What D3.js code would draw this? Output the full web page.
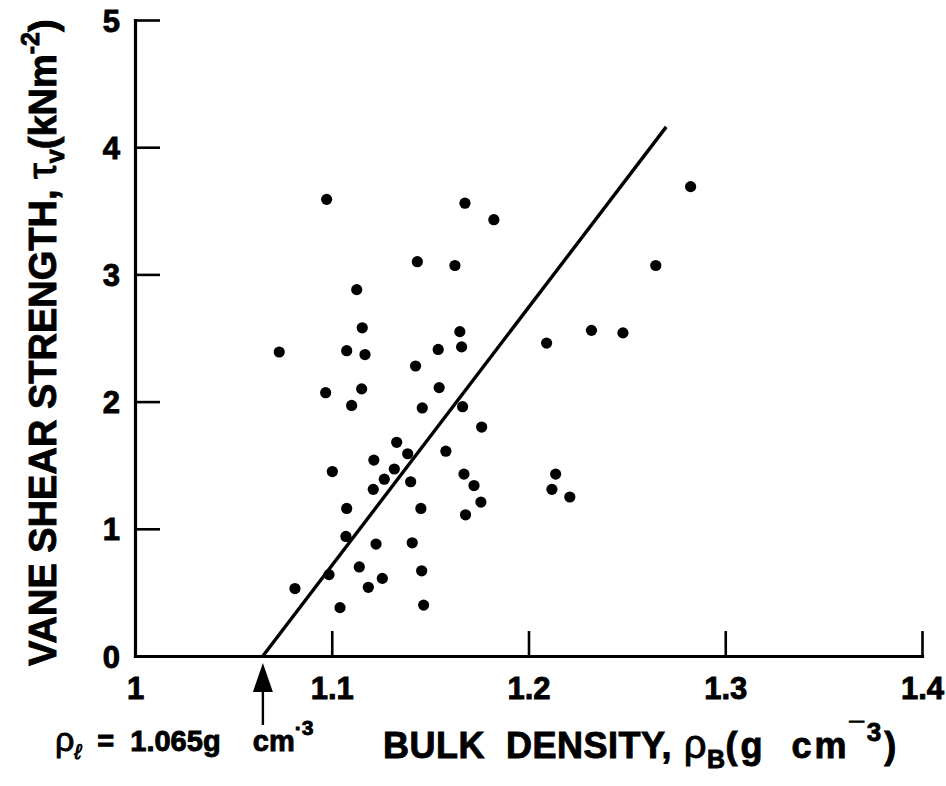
<!DOCTYPE html>
<html>
<head>
<meta charset="utf-8">
<script src="https://cdn.jsdelivr.net/npm/d3@7"></script>
<style>
  html, body { margin: 0; padding: 0; background: #fff; }
  svg { display: block; }
  text { font-family: "Liberation Sans", Arial, Helvetica, sans-serif; font-weight: bold; fill: #000; white-space: pre; }
  .heavy { stroke: #000; stroke-width: 0.9px; }
</style>
</head>
<body>
<svg id="chart" width="946" height="786"></svg>
<script>
// Bulk density (g cm-3) of each sample
const density = [
  1.0974, 1.1677, 1.1824, 1.1435, 1.1626, 1.1127, 1.1155, 1.1651, 1.0733, 1.1076,
  1.1169, 1.1541, 1.1660, 1.1426, 1.0969, 1.1152, 1.1101, 1.1546, 1.1460, 1.1665,
  1.1762, 1.1330, 1.1386, 1.1580, 1.1214, 1.1003, 1.1318, 1.1267, 1.1401, 1.1211,
  1.1672, 1.1723, 1.1758, 1.1680, 1.1453, 1.1076, 1.1072, 1.1225, 1.1409, 1.0986,
  1.0813, 1.1140, 1.1257, 1.1186, 1.1457, 1.1042, 1.1467, 1.2824, 1.2647, 1.2092,
  1.2320, 1.2480, 1.2138, 1.2119, 1.2210
];
// Vane shear strength (kN m-2) of each sample
const strength = [
  3.59, 3.56, 3.43, 3.10, 3.07, 2.88, 2.58, 2.55, 2.39, 2.40,
  2.37, 2.41, 2.43, 2.28, 2.07, 2.10, 1.97, 2.11, 1.95, 1.96,
  1.80, 1.68, 1.59, 1.61, 1.54, 1.45, 1.47, 1.39, 1.37, 1.31,
  1.43, 1.34, 1.21, 1.11, 1.16, 1.16, 0.94, 0.88, 0.89, 0.64,
  0.53, 0.70, 0.61, 0.54, 0.67, 0.38, 0.40, 3.69, 3.07, 2.46,
  2.56, 2.54, 1.43, 1.31, 1.25
];
// Fitted line end points: zero strength at the liquid-limit density 1.065
const fitDensity = [1.065, 1.27];
const fitStrength = [0, 4.16];
const liquidDensity = 1.065;

// Axis ticks
const xTicks = [1, 1.1, 1.2, 1.3, 1.4];
const xTickLabels = ["1", "1.1", "1.2", "1.3", "1.4"];
const yTicks = [0, 1, 2, 3, 4, 5];
const yTickLabels = ["0", "1", "2", "3", "4", "5"];

const svg = d3.select("#chart");

const x = d3.scaleLinear().domain([1, 1.4]).range([135, 922]);
const y = d3.scaleLinear().domain([0, 5]).range([656, 20]);

// Axes: ticks point inward, heavy lines
const yAxis = d3.axisLeft(y)
  .tickValues(yTicks)
  .tickFormat((d, i) => yTickLabels[i])
  .tickSizeInner(-25)
  .tickSizeOuter(0)
  .tickPadding(15);

const xAxis = d3.axisBottom(x)
  .tickValues(xTicks)
  .tickFormat((d, i) => xTickLabels[i])
  .tickSizeInner(-25)
  .tickSizeOuter(0)
  .tickPadding(21);

const gy = svg.append("g").attr("transform", `translate(${x(1)},0)`).call(yAxis);
const gx = svg.append("g").attr("transform", `translate(0,${y(0)})`).call(xAxis);

[gx, gy].forEach(g => {
  g.select(".domain").attr("stroke", "#000").attr("stroke-width", 3.2).attr("stroke-linecap", "square");
  g.selectAll(".tick line").attr("stroke", "#000").attr("stroke-width", 2.6);
  g.selectAll(".tick text")
    .attr("fill", "#000")
    .attr("class", "heavy")
    .style("font-family", '"Liberation Sans", Arial, sans-serif')
    .style("font-weight", "bold")
    .style("font-size", "31px");
});
gy.selectAll(".tick text").attr("dy", "0.36em");

// Fitted line
const line = d3.line().x((d, i) => x(fitDensity[i])).y((d, i) => y(fitStrength[i]));
svg.append("path")
  .datum(fitDensity)
  .attr("d", line)
  .attr("fill", "none")
  .attr("stroke", "#000")
  .attr("stroke-width", 3.4);

// Sample points
svg.append("g")
  .selectAll("circle")
  .data(density)
  .join("circle")
  .attr("cx", d => x(d))
  .attr("cy", (d, i) => y(strength[i]))
  .attr("r", 5.6)
  .attr("fill", "#000");

// Arrow marking the liquid-limit density below the axis
const ax = x(liquidDensity);
svg.append("line")
  .attr("x1", ax).attr("x2", ax)
  .attr("y1", 725).attr("y2", 690)
  .attr("stroke", "#000").attr("stroke-width", 2.4);
svg.append("path")
  .attr("d", `M${ax},663 L${ax - 10},692 L${ax + 10},692 Z`)
  .attr("fill", "#000");

// Liquid-limit label
const ll = svg.append("text")
  .attr("x", 55).attr("y", 751)
  .attr("class", "heavy")
  .style("font-size", "29px");
ll.append("tspan").style("font-weight", "normal").style("font-size", "34px").text("\u03c1");
ll.append("tspan").attr("dy", 8).style("font-size", "21px").style("font-style", "italic").style("font-weight", "normal").text("\u2113");
ll.append("tspan").attr("dy", -8).text("  =  1.065g    cm");
ll.append("tspan").attr("dy", -16).style("font-size", "21px").text("\u00b73");

// X axis title
const xt = svg.append("text")
  .attr("x", 383).attr("y", 758)
  .attr("class", "heavy")
  .style("font-size", "36px")
  .style("letter-spacing", "0.5px");
xt.append("tspan").text("BULK  DENSITY,");
xt.append("tspan").style("font-weight", "normal").style("font-size", "40px").text(" \u03c1");
xt.append("tspan").attr("dy", 10).style("font-size", "25px").text("B");
xt.append("tspan").attr("dy", -10).style("letter-spacing", "3px").text("(g  cm");
xt.append("tspan").attr("dy", -17).style("font-size", "26px").style("letter-spacing", "3px").text("\u00af3");
xt.append("tspan").attr("dy", 17).text(")");

// Y axis title
const yt = svg.append("text")
  .attr("transform", "translate(56,666) rotate(-90)")
  .attr("class", "heavy")
  .style("font-size", "38px");
yt.append("tspan").text("VANE SHEAR STRENGTH, ");
yt.append("tspan").style("font-weight", "normal").style("font-size", "40px").text("\u03c4");
yt.append("tspan").attr("dy", 8).style("font-size", "25px").text("v");
yt.append("tspan").attr("dy", -8).text("(kNm");
yt.append("tspan").attr("dy", -17).style("font-size", "25px").text("-2");
yt.append("tspan").attr("dy", 17).text(")");
</script>
</body>
</html>
